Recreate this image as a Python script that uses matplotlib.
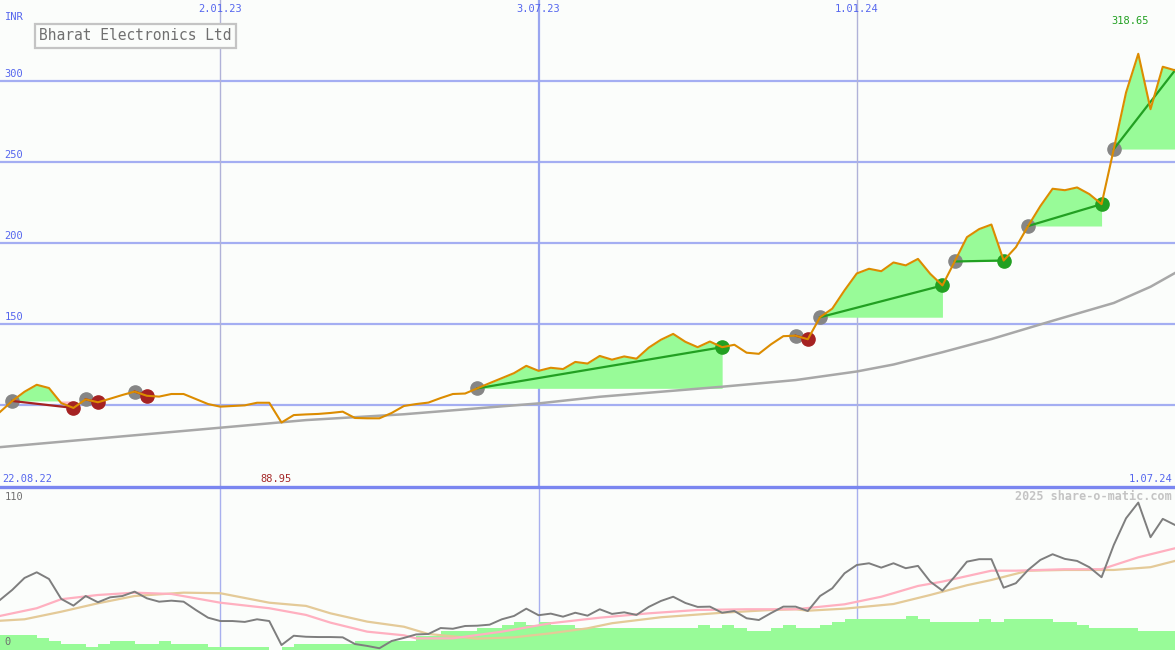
import numpy as np
import matplotlib.pyplot as plt
from matplotlib.lines import Line2D
from matplotlib.transforms import blended_transform_factory

plt.rcParams['font.family'] = 'DejaVu Sans Mono'

# weekly closes (INR), 22.08.22 .. 1.07.24
price = [95.7, 102.5, 108.2, 112.5, 110.5, 101.2, 98.2, 103.5, 101.7, 103.9,
         106.2, 108.3, 105.7, 105.2, 106.8, 106.8, 103.7, 100.6, 99.0, 99.4,
         99.8, 101.4, 101.4, 89.2, 93.8, 94.2, 94.5, 95.1, 95.9, 92.0,
         91.8, 91.8, 95.1, 99.4, 100.6, 101.5, 104.3, 106.8, 107.1, 110.3,
         113.5, 116.6, 119.7, 124.2, 121.1, 123.0, 122.2, 126.6, 125.6, 130.3,
         128.0, 130.0, 128.6, 135.4, 140.3, 143.9, 139.0, 135.7, 139.2, 135.7,
         137.2, 132.3, 131.6, 137.5, 142.5, 142.8, 140.6, 154.2, 159.5, 170.8,
         181.2, 184.1, 182.6, 188.0, 186.2, 190.2, 181.0, 173.8, 188.6, 203.6,
         208.6, 211.4, 189.2, 197.4, 210.5, 222.8, 233.5, 232.6, 234.3, 230.2,
         224.0, 258.0, 292.9, 316.8, 282.6, 308.8, 306.6]

# long moving average (gray), read at a few weeks
ma_week = [0, 9, 18, 25, 33, 44, 49, 54, 59, 65, 70, 73, 77, 81, 86, 91, 94, 96]
ma_val = [74.0, 80.0, 86.0, 90.7, 94.3, 101.0, 105.1, 108.2, 111.3, 115.4,
          120.7, 125.0, 132.6, 140.7, 152.0, 163.0, 173.0, 181.5]

# signals: (entry week, exit week, result)
trades = [(1, 6, 'loss'), (7, 8, 'loss'), (11, 12, 'loss'), (39, 59, 'win'),
          (65, 66, 'loss'), (67, 77, 'win'), (78, 82, 'win'), (84, 90, 'win'),
          (91, 96, 'open')]

# lower panel: oscillator, its two averages, volume
osc = [34.4, 41.3, 49.5, 53.4, 48.8, 35.1, 30.5, 37.1, 32.8, 36.2,
       37.1, 40.1, 35.5, 33.2, 33.9, 33.2, 27.5, 22.2, 19.9, 19.9,
       19.3, 21.1, 19.9, 3.4, 9.8, 9.1, 8.9, 8.9, 8.7, 4.1,
       2.8, 1.2, 6.2, 8.3, 10.7, 11.0, 15.1, 14.6, 16.5, 16.7,
       17.4, 21.1, 23.4, 28.4, 23.9, 25.0, 22.9, 25.6, 23.6, 28.0,
       24.8, 25.9, 24.1, 29.6, 33.7, 36.6, 32.3, 29.6, 29.8, 25.6,
       26.8, 21.8, 20.6, 25.4, 29.8, 29.8, 26.8, 37.1, 42.4, 52.7,
       58.4, 59.6, 56.6, 59.6, 56.2, 57.8, 47.0, 40.8, 50.4, 60.7,
       62.4, 62.4, 42.8, 45.9, 55.0, 61.9, 65.8, 62.6, 61.2, 56.9,
       50.0, 72.2, 90.5, 101.3, 77.5, 90.1, 85.9]
pink_week = [0, 3, 5, 8, 11, 14, 18, 22, 25, 27, 30, 33, 34, 37, 41, 45, 49, 53,
             57, 61, 65, 69, 72, 75, 77, 81, 83, 87, 90, 93, 96]
pink_val = [23.4, 28.7, 34.9, 37.8, 39.4, 38.5, 32.5, 28.7, 24.1, 18.8, 12.6, 10.1,
            8.0, 8.0, 12.6, 18.4, 22.2, 25.2, 27.5, 28.0, 28.0, 31.4, 36.6, 44.0,
            47.0, 54.5, 54.5, 55.5, 55.5, 63.7, 69.9]
tan_week = [0, 2, 5, 8, 11, 15, 18, 22, 25, 27, 30, 33, 35, 39, 42, 45, 48, 50,
            54, 59, 63, 65, 66, 69, 73, 76, 79, 81, 84, 87, 91, 94, 96]
tan_val = [20.1, 21.1, 26.3, 32.1, 37.1, 39.4, 39.0, 32.5, 30.3, 25.2, 19.5, 16.0,
           11.0, 7.8, 8.7, 11.5, 14.9, 18.4, 22.5, 25.6, 27.5, 28.0, 27.0, 28.4,
           31.6, 37.8, 44.5, 48.1, 54.5, 55.0, 55.0, 56.9, 61.2]
volume = [10.3, 10.3, 10.3, 8.0, 6.2, 4.1, 4.1, 2.3, 4.1, 6.2,
          6.2, 4.1, 4.1, 6.2, 4.1, 4.1, 4.1, 2.3, 2.3, 2.3,
          2.3, 2.3, 0.0, 2.3, 4.1, 4.1, 4.1, 4.1, 4.1, 6.2,
          6.2, 6.2, 6.2, 6.2, 9.8, 9.8, 13.3, 13.3, 13.3, 15.3,
          15.3, 17.2, 19.3, 17.2, 19.3, 17.2, 17.2, 15.3, 15.3, 15.3,
          15.3, 15.3, 15.3, 15.3, 15.3, 15.3, 15.3, 17.2, 15.3, 17.2,
          15.3, 13.3, 13.3, 15.3, 17.2, 15.3, 15.3, 17.2, 19.3, 21.3,
          21.3, 21.3, 21.3, 21.3, 23.4, 21.3, 19.3, 19.3, 19.3, 19.3,
          21.3, 19.3, 21.3, 21.3, 21.3, 21.3, 19.3, 19.3, 17.2, 15.3,
          15.3, 15.3, 15.3, 13.3, 13.3, 13.3]

# axis labels
date_pos = [18, 44, 70]
date_labels = ['2.01.23', '3.07.23', '1.01.24']
date_major = [False, True, False]
grid_levels = [100, 150, 200, 250, 300]
level_labels = [150, 200, 250, 300]
start_label, end_label = '22.08.22', '1.07.24'
low_label, high_label = '88.95', '318.65'
title = 'Bharat Electronics Ltd'

bg = '#FBFDFB'
blue_txt = '#5566EE'
grid_c = '#A4AEF2'
orange = '#DC8C00'
green = '#22A022'
fill_green = '#98FB98'
fill_pink = '#FFB6C1'
red = '#A52222'

p = np.array(price)
x = np.arange(len(p))

fig = plt.figure(figsize=(11.75, 6.5), dpi=100)
fig.patch.set_facecolor(bg)
ax = fig.add_axes([0, 163 / 650, 1, 487 / 650])
ax2 = fig.add_axes([0, 0, 1, 163 / 650])
for a in (ax, ax2):
    a.set_facecolor(bg)
    a.set_xlim(0, 96)
    a.set_xticks([])
    a.set_yticks([])
    for s in a.spines.values():
        s.set_visible(False)
ax.set_ylim(49.4, 350)
ax2.set_ylim(0, 112)

bx = blended_transform_factory(ax.transData, ax.transAxes)
bx2 = blended_transform_factory(ax2.transData, ax2.transAxes)

# --- upper panel: grid
for v in grid_levels:
    ax.axhline(v, color=grid_c, lw=1.6, zorder=1)
for v in level_labels:
    ax.text(0.35, v + 1.3, str(v), color=blue_txt, fontsize=7.5, va='bottom', ha='left')
for pos, lab, major in zip(date_pos, date_labels, date_major):
    ax.axvline(pos, color='#9AA6F0' if major else '#B0B2D8', lw=1.6 if major else 1.0, zorder=1)
    ax2.axvline(pos, color='#A8B0EE', lw=1.0, zorder=1)
    ax.text(pos, 1 - 9 / 487, lab, transform=bx, color=blue_txt, fontsize=7.5,
            ha='center', va='center')

# --- signal fills
for e, xe, res in trades:
    xs = x[e:xe + 1]
    ps = p[e:xe + 1]
    ax.fill_between(xs, p[e], ps, where=ps >= p[e], interpolate=True,
                    color=fill_green, lw=0, zorder=2)
    ax.fill_between(xs, p[e], ps, where=ps < p[e], interpolate=True,
                    color=fill_pink, lw=0, zorder=2)

# --- moving average and price
ax.plot(ma_week, ma_val, color='#A8A8A8', lw=1.8, zorder=3)

for e, xe, res in trades:
    ax.plot(e, p[e], 'o', color='#868686', ms=9.5, zorder=4)
    if res == 'win':
        ax.plot(xe, p[xe], 'o', color=green, ms=9.5, zorder=4)
    elif res == 'loss':
        ax.plot(xe, p[xe], 'o', color=red, ms=9.5, zorder=4)
    ax.plot([e, xe], [p[e], p[xe]], color=red if res == 'loss' else green,
            lw=1.6, zorder=5)

ax.plot(x, p, color=orange, lw=1.5, zorder=6)

# --- labels
ax.text(0.4, 1 - 17 / 487, 'INR', transform=bx, color=blue_txt, fontsize=7.5,
        ha='left', va='center')
ax.text(11.07, 1 - 36 / 487, title, transform=bx, color='#707070', fontsize=10.5,
        ha='center', va='center', zorder=10,
        bbox=dict(boxstyle='square,pad=0.3', fc=bg, ec='#C4C4C4', lw=1.6))
ax.text(0.2, 8 / 487, start_label, transform=bx, color=blue_txt, fontsize=7.5,
        ha='left', va='center')
ax.text(95.8, 8 / 487, end_label, transform=bx, color=blue_txt, fontsize=7.5,
        ha='right', va='center')
lo_i, hi_i = int(np.argmin(p)), int(np.argmax(p))
ax.annotate(low_label, xy=(lo_i, 8 / 487), xycoords=bx, xytext=(-4, 0),
            textcoords='offset points', color='#A52A2A', fontsize=7.5,
            ha='center', va='center')
ax.annotate(high_label, xy=(hi_i, 1 - 21 / 487), xycoords=bx, xytext=(-6, 0),
            textcoords='offset points', color=green, fontsize=7.5,
            ha='center', va='center')

# --- lower panel
ax2.bar(np.arange(len(volume)), volume, width=1, align='edge', color=fill_green,
        lw=0, zorder=2)
ax2.plot(tan_week, tan_val, color='#E4CA98', lw=1.6, zorder=3)
ax2.plot(pink_week, pink_val, color='#FFB0C0', lw=1.6, zorder=3)
ax2.plot(np.arange(len(osc)), osc, color='#7E7E7E', lw=1.4, zorder=4)
ax2.text(0.35, 1 - 10 / 163, '110', transform=bx2, color='#707070', fontsize=7.5,
         ha='left', va='center')
ax2.text(0.35, 8 / 163, '0', transform=bx2, color='#707070', fontsize=7.5,
         ha='left', va='center')
ax2.text(1 - 3 / 1175, 1 - 9 / 163, '2025 share-o-matic.com', transform=ax2.transAxes,
         color='#C4C4C4', fontsize=8.5, fontweight='bold', ha='right', va='center')

# panel separator
fig.add_artist(Line2D([0, 1], [163 / 650, 163 / 650], transform=fig.transFigure,
                      color='#7A86F0', lw=2.4, zorder=20))

fig.savefig('out.png', dpi=100, facecolor=bg)
